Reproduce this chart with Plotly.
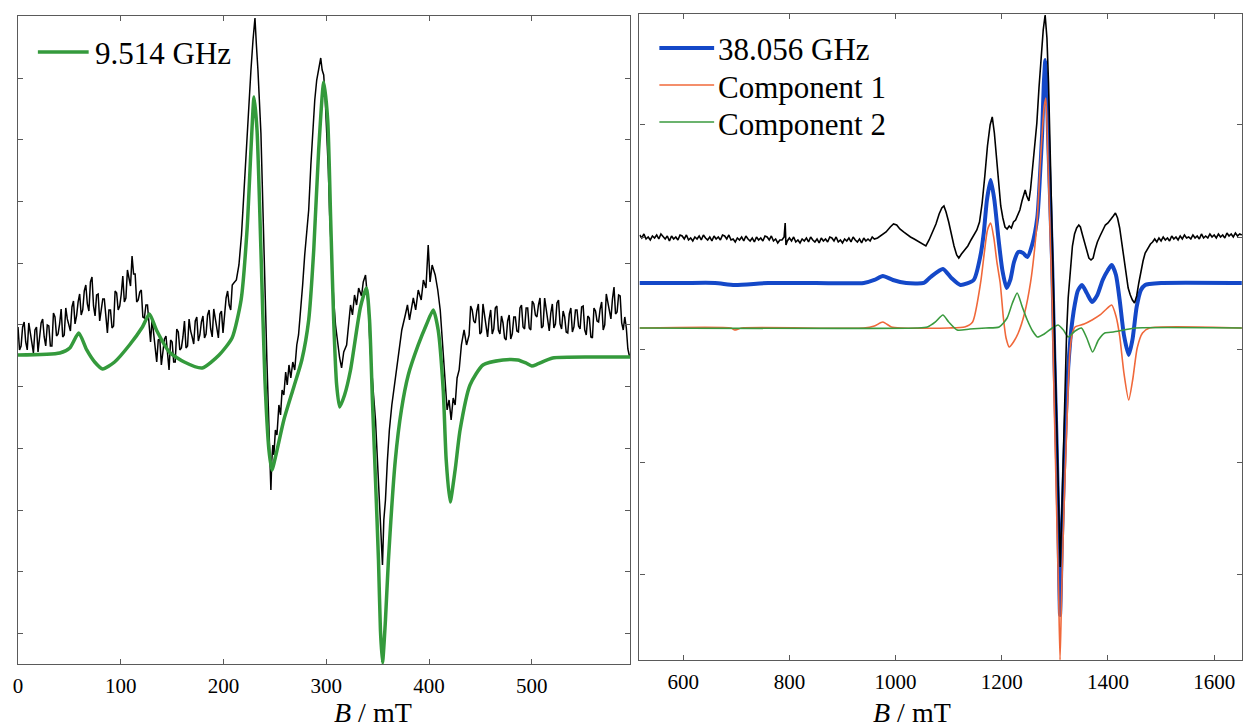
import plotly.graph_objects as go

# X-band (9.514 GHz) experimental spectrum, split in three field ranges
x_band_field_low = [0, 1.5, 3, 4.5, 6, 7.5, 9, 10.5, 12, 13.5, 15, 16.5, 18, 19.5, 21, 22.5, 24, 25.5, 27, 28.5,
                    30, 31.5, 33, 34.5, 36, 37.5, 39, 40.5, 42, 43.5, 45, 46.5, 48, 49.5, 51, 52.5, 54, 55.5, 57, 58.5,
                    60, 61.5, 63, 64.5, 66, 67.5, 69, 70.5, 72, 73.5, 75, 76.5, 78, 79.5, 81, 82.5, 84, 85.5, 87, 88.5,
                    90, 91.5, 93, 94.5, 96, 97.5, 99, 100.5, 102, 103.5, 105, 106.5, 108, 109.5, 111, 112.5, 114, 115.5,
                    117, 118.5, 120, 121.5, 123, 124.5, 126, 127.5, 129, 130.5, 132, 133.5, 135, 136.5, 138, 139.5,
                    141, 142.5, 144, 145.5, 147, 148.5, 150, 151.5, 153, 154.5, 156, 157.5, 159, 160.5, 162, 163.5,
                    165, 166.5, 168, 169.5, 171, 172.5, 174, 175.5, 177, 178.5, 180, 181.5, 183, 184.5, 186, 187.5,
                    189, 190.5, 192, 193.5, 195, 196.5, 198, 199.5, 201, 202.5, 204, 205.5, 207, 208.5, 210]
x_band_signal_low = [27, 4, 8, 27, 32, 12, 4, 31, 21, 9, 1, 24, 27, 2, 15, 31, 35, 17, 8, 29,
                     28, 8, 8, 41, 37, 18, 20, 30, 45, 17, 19, 46, 35, 29, 23, 47, 53, 30, 38, 52,
                     60, 39, 44, 63, 69, 50, 43, 72, 77, 48, 38, 59, 60, 33, 43, 55, 55, 34, 21, 44,
                     44, 26, 28, 63, 61, 44, 48, 60, 78, 52, 56, 84, 74, 68, 98, 80, 80, 52,
                     54, 62, 64, 37, 36, 49, 49, 25, 12, 35, 21, 4, -8, 14, 15, -11,
                     1, 15, 18, 1, -16, 14, 12, -8, -8, 25, 22, 4, 6, 17, 33, 6,
                     8, 35, 23, 17, 10, 33, 37, 13, 19, 32, 38, 16, 20, 39, 44, 25,
                     17, 45, 36, 24, 16, 40, 43, 21, 37, 56, 63, 49, 44, 69, 71]

x_band_field_peaks = [212.5, 215, 217.5, 220, 222.9, 224.8, 226.7, 228.7, 230.6, 232,
                      233.5, 236.4, 239.3, 240.7, 242.2, 243.2, 244.2, 245.2, 246.1, 247,
                      248, 249, 250.5, 252, 253.9, 255.5, 257, 258.7, 260.5, 262,
                      263.7, 265.5, 267.4, 269.3, 271.3, 273, 275.2, 277, 279, 281,
                      282.9, 285, 286.8, 288.8, 290.7, 292.5, 294.6, 296, 297.5, 299,
                      300.4, 302, 303.3, 305, 307.2, 309, 311, 313, 314.9, 317,
                      319.8, 321.5, 323.6, 325.5, 327.5, 329.5, 331.5, 334.3, 336, 338.2,
                      339.5, 341.1, 342.5, 344, 346, 347.9, 349.5, 350.8, 352.7, 354.7,
                      356, 357.6, 359.5, 361.4, 363.8, 366.3, 368.5, 371.1, 373.5, 376.9,
                      379, 381, 384.7, 387, 389.5, 392.4, 394.5, 397, 399.2, 401,
                      403, 406, 408.5, 410.9, 412.8, 414.7, 416, 417.6, 419.5, 421.5,
                      423.5, 425.4, 427.3, 429.3, 431.5, 434.1, 436.5]
x_band_signal_peaks = [74, 89, 119, 164, 221, 254, 284, 314, 336, 309,
                       284, 221, 121, 54, -6, -46, -76, -101, -136, -106,
                       -91, -101, -76, -81, -51, -61, -36, -41, -18, -31,
                       -11, -24, -8, -16, 9, 19, 44, 69, 99, 119,
                       144, 189, 224, 254, 274, 284, 296, 284, 279, 254,
                       224, 184, 139, 99, 54, 29, 9, -4, -14, 2,
                       9, 29, 49, 39, 59, 49, 66, 58, 72, 79,
                       59, 44, 9, -16, -41, -66, -101, -136, -166, -211,
                       -166, -146, -106, -76, -51, -31, -11, 4, 24, 39,
                       49, 34, 56, 44, 64, 54, 74, 66, 109, 72,
                       89, 79, 64, 44, 14, -16, -41, -56, -46, -66,
                       -44, -51, -24, -16, 9, 24, 9]

x_band_field_high = [439, 440.5, 442, 443.5, 445, 446.5, 448, 449.5, 451, 452.5, 454, 455.5, 457, 458.5,
                     460, 461.5, 463, 464.5, 466, 467.5, 469, 470.5, 472, 473.5, 475, 476.5, 478, 479.5,
                     481, 482.5, 484, 485.5, 487, 488.5, 490, 491.5, 493, 494.5, 496, 497.5, 499, 500.5,
                     502, 503.5, 505, 506.5, 508, 509.5, 511, 512.5, 514, 515.5, 517, 518.5, 520, 521.5,
                     523, 524.5, 526, 527.5, 529, 530.5, 532, 533.5, 535, 536.5, 538, 539.5, 541, 542.5,
                     544, 545.5, 547, 548.5, 550, 551.5, 553, 554.5, 556, 557.5, 559, 560.5, 562, 563.5,
                     565, 566.5, 568, 569.5, 571, 572.5, 574, 575.5, 577, 578.5, 580, 581.5, 583, 584.5,
                     586, 587.5, 589, 590.5, 592, 593.5, 595]
x_band_signal_high = [19, 48, 44, 33, 31, 43, 50, 20, 22, 50, 40, 26, 17, 35,
                      44, 20, 25, 46, 48, 24, 20, 38, 31, 16, 14, 33, 39, 15,
                      20, 37, 37, 23, 22, 46, 49, 27, 25, 46, 46, 26, 24, 53,
                      50, 39, 37, 49, 56, 26, 28, 56, 45, 31, 23, 41, 50, 26,
                      30, 51, 54, 30, 25, 43, 37, 22, 21, 40, 46, 22, 27, 44,
                      44, 28, 25, 47, 48, 24, 19, 38, 36, 17, 16, 46, 43, 33,
                      32, 45, 52, 24, 29, 60, 52, 41, 35, 55, 67, 40, 42, 59,
                      58, 31, 24, 37, 26, 5, -2]

# X-band simulation
x_band_field_sim = [0, 40.7, 50.4, 59.1, 66.9, 74.6, 82.4, 94, 108.5, 121.1,
                    127.9, 134.7, 147.3, 161.8, 179.3, 195.7, 208.3, 217.1, 222.9, 226.7,
                    229.7, 232.6, 236.4, 240.3, 244.2, 247.1, 251, 258.7, 268.4, 276.2,
                    282.9, 287.8, 292.6, 297.5, 301.4, 304.3, 307.2, 310.1, 313, 317.8,
                    323.6, 333.3, 339.1, 342.1, 344.9, 347.9, 350.8, 352.7, 354.7, 357.6,
                    360.5, 367.2, 373.1, 379.8, 389.5, 397.3, 404.1, 408.9, 413.8, 416.7,
                    420.5, 425.4, 430.2, 439.9, 452.5, 471.9, 486.4, 494.2, 500, 505.8,
                    520.3, 559.1, 596]
x_band_signal_sim = [-1, 1, 6, 21, 4, -8, -15, -8, 9, 27,
                     40, 24, 2, -8, -14, -1, 16, 54, 124, 204,
                     257, 224, 104, -26, -96, -116, -101, -66, -33, -6,
                     34, 104, 204, 272, 234, 134, 34, -31, -53, -41,
                     -16, 47, 66, 34, -46, -126, -206, -276, -309, -266,
                     -206, -106, -56, -21, 9, 29, 44, 24, -36, -106,
                     -148, -116, -76, -31, -11, -6, -6, -9, -12, -10,
                     -4, -3, -3]

# Q-band (38.056 GHz) experimental spectrum
q_band_field_exp = [518, 522, 526, 530, 534, 538, 542, 546, 550, 554, 558, 562, 566, 570, 574, 578, 582, 586,
                    590, 594, 598, 602, 606, 610, 614, 618, 622, 626, 630, 634, 638, 642, 646, 650, 654, 658,
                    662, 666, 670, 674, 678, 682, 686, 690, 694, 698, 702, 706, 710, 714, 718, 722, 726, 730,
                    734, 738, 742, 746, 750, 754, 758, 762, 766, 770, 774, 778, 782, 786, 790, 792, 793.5, 796,
                    800, 804, 808, 812, 816, 820, 824, 828, 832, 836, 840, 844, 848, 852, 856, 860, 864, 868,
                    872, 876, 880, 884, 888, 892, 896, 900, 904, 908, 912, 916, 920, 924, 928, 932, 936, 940,
                    944, 948, 952, 956, 960,
                    966, 974, 982, 990, 996, 1002, 1008, 1015, 1022, 1028, 1035, 1042, 1050, 1057, 1063,
                    1070, 1076, 1082, 1087, 1091, 1095, 1100, 1105, 1110, 1115, 1119, 1124, 1130, 1136,
                    1142, 1148, 1153, 1158, 1163, 1168, 1173, 1178, 1182, 1186, 1190, 1194, 1198, 1202,
                    1206, 1210, 1214, 1218, 1222, 1226, 1230, 1234, 1238, 1241, 1244, 1247, 1251, 1254,
                    1258, 1262, 1266, 1270, 1274, 1278, 1281.6, 1285, 1288, 1291, 1294, 1297, 1300, 1304,
                    1307, 1310, 1313, 1316, 1319, 1322, 1325, 1329, 1333, 1337, 1341, 1345, 1348, 1352,
                    1356, 1360, 1364, 1368, 1372, 1376, 1380, 1385, 1390, 1395, 1400, 1405, 1410, 1414,
                    1418, 1422, 1426, 1430, 1434, 1438, 1442, 1446, 1450, 1454, 1458, 1462, 1466, 1470,
                    1475, 1480,
                    1484, 1488, 1492, 1496, 1500, 1504, 1508, 1512, 1516, 1520, 1524, 1528, 1532, 1536,
                    1540, 1544, 1548, 1552, 1556, 1560, 1564, 1568, 1572, 1576, 1580, 1584, 1588, 1592,
                    1596, 1600, 1604, 1608, 1612, 1616, 1620, 1624, 1628, 1632, 1636, 1640, 1644, 1648, 1652]
q_band_signal_exp = [93, 90, 94, 89, 91, 88, 92, 90, 93, 89, 94, 91, 89, 92, 87, 92, 89, 91,
                     88, 93, 92, 89, 93, 88, 90, 87, 91, 89, 92, 88, 93, 90, 88, 91, 87, 92,
                     89, 91, 88, 93, 92, 89, 93, 88, 89, 86, 90, 88, 91, 87, 92, 89, 87, 90,
                     86, 91, 88, 90, 87, 92, 91, 88, 92, 87, 89, 85, 88, 88, 91, 105, 83, 87,
                     90, 87, 91, 86, 88, 85, 89, 87, 90, 86, 91, 88, 86, 89, 85, 90, 87, 89,
                     86, 91, 90, 87, 91, 86, 88, 85, 89, 87, 90, 86, 91, 88, 86, 89, 85, 90,
                     87, 89, 87, 91, 89,
                     90, 93, 96, 101, 104, 103, 99, 96, 93, 91, 89, 87, 84, 82, 88,
                     96, 104, 114, 120, 122, 116, 106, 92, 82, 73, 70, 74, 78, 82,
                     88, 93, 98, 106, 125, 152, 182, 203, 211, 195, 170, 145, 122, 110,
                     101, 99, 102, 100, 106, 108, 113, 118, 127, 133, 138, 132, 127, 138,
                     160, 180, 205, 240, 272, 298, 313, 290, 245, 180, 105, 30, -30, -110,
                     -180, -239, -185, -115, -50, -5, 30, 60, 82, 94, 100, 103, 101, 93,
                     85, 76, 70, 68, 70, 79, 86, 92, 98, 103, 105, 108, 112, 115,
                     110, 100, 85, 68, 52, 40, 33, 28, 25, 32, 45, 57, 67, 75,
                     80, 84,
                     86, 89, 86, 90, 87, 91, 88, 90, 87, 92, 89, 91, 88, 92,
                     89, 93, 90, 91, 89, 93, 90, 92, 89, 94, 90, 92, 90, 94,
                     91, 93, 90, 94, 91, 93, 90, 95, 92, 94, 91, 95, 92, 94, 93]

# Q-band simulation and its two components
q_band_field_sim = [517.6, 600, 660, 697, 760, 850, 940, 960, 976, 995,
                    1020, 1053, 1066, 1089, 1105, 1122, 1147, 1160, 1166, 1172,
                    1179, 1186, 1194, 1201, 1209, 1216, 1223, 1231, 1240, 1248,
                    1257, 1267, 1272, 1276, 1279, 1282, 1285, 1287, 1291, 1295,
                    1299, 1303, 1306.5, 1309.7, 1313, 1317, 1321, 1325, 1329, 1333,
                    1338, 1343, 1351, 1360, 1370, 1380, 1390, 1400, 1407, 1415,
                    1422, 1430, 1439, 1446, 1454, 1462, 1470, 1478, 1500, 1652]
q_band_signal_sim = [45, 45, 45, 43, 45, 45, 45, 48, 52, 48,
                     45, 45, 51, 59, 50, 43, 48, 73, 95, 128,
                     148, 128, 88, 58, 40, 48, 66, 76, 75, 71,
                     83, 111, 153, 195, 243, 268, 238, 195, 128, 61,
                     -30, -110, -195, -287, -215, -145, -85, -40, -12, 8,
                     25, 37, 43, 35, 26, 33, 48, 58, 63, 53,
                     28, -7, -27, -12, 21, 38, 43, 44, 45, 45]

comp1_field = [517.6, 690, 697, 710, 940, 960, 976, 992, 1010, 1100,
               1130, 1145, 1160, 1167, 1173, 1179, 1185, 1191, 1197, 1203,
               1208, 1214, 1222, 1231, 1243, 1254, 1262, 1267, 1272, 1276,
               1280, 1283, 1287, 1291, 1294.8, 1298, 1301, 1304, 1307, 1309.7,
               1312.5, 1315.8, 1319, 1322, 1325, 1328.5, 1333, 1338, 1355, 1370,
               1385, 1395, 1407, 1415, 1422, 1430, 1439, 1447, 1455, 1465,
               1478, 1652]
comp1_signal = [0, 0, -2, 0, 0, 2, 6, 1, 0, 0,
                1, 6, 45, 75, 98, 105, 90, 65, 45, 10,
                -10, -19, -14, -5, 15, 45, 80, 111, 160, 195,
                222, 230, 165, 95, 28, -60, -130, -200, -265, -332,
                -270, -205, -150, -105, -60, -22, -5, 1, 4, 8,
                13, 18, 23, 12, -8, -45, -72, -50, -20, -5,
                0, 0]

comp2_field = [517.6, 1040, 1060, 1075, 1089, 1100, 1116, 1140, 1170, 1195,
               1210, 1220, 1229, 1238, 1248, 1258, 1267, 1280, 1295, 1306,
               1316, 1325, 1338, 1350, 1360, 1371, 1382, 1394, 1410, 1430,
               1452, 1652]
comp2_signal = [0, 0, 1, 6, 13, 6, -2, -1, 0, 1,
                10, 25, 35, 22, 8, -3, -9, -6, 0, 3,
                -2, -9, -3, 0, -10, -24, -12, -5, -4, -2,
                0, 0]

x_band_ticks = [0, 100, 200, 300, 400, 500]
q_band_ticks = [600, 800, 1000, 1200, 1400, 1600]

SERIF = "Liberation Serif"
AXIS_GREY = "#5a5a5a"
GREEN_THICK = "#349a3c"
BLUE = "#1448c8"
ORANGE = "#f0683a"
GREEN_THIN = "#3a9a3e"


def axis_style():
    return dict(showline=True, linecolor=AXIS_GREY, linewidth=1.3, mirror="ticks",
                ticks="inside", ticklen=5, tickcolor=AXIS_GREY, tickwidth=1,
                showgrid=False, zeroline=False,
                tickfont=dict(family=SERIF, size=21, color="black"))


def legend_entry(fig, x0, x1, text_x, y_px, text, color, width):
    # line sample plus label, placed in page pixels of the 1243x728 canvas
    y = 1 - y_px / 728
    fig.add_shape(type="line", xref="paper", yref="paper", x0=x0 / 1243, x1=x1 / 1243, y0=y, y1=y,
                  line=dict(color=color, width=width))
    fig.add_annotation(text=text, x=text_x / 1243, y=1 - (y_px + 2) / 728, xref="paper", yref="paper",
                       xanchor="left", yanchor="middle", showarrow=False,
                       font=dict(family=SERIF, size=31, color="black"))


def generate_figure():
    fig = go.Figure()

    fig.add_trace(go.Scatter(x=x_band_field_low + x_band_field_peaks + x_band_field_high,
                             y=x_band_signal_low + x_band_signal_peaks + x_band_signal_high,
                             mode="lines", line=dict(color="black", width=1.5),
                             xaxis="x", yaxis="y"))
    fig.add_trace(go.Scatter(x=x_band_field_sim, y=x_band_signal_sim, mode="lines",
                             line=dict(color=GREEN_THICK, width=3.5, shape="spline", smoothing=0.6),
                             name="9.514 GHz", xaxis="x", yaxis="y"))

    fig.add_trace(go.Scatter(x=q_band_field_sim, y=q_band_signal_sim, mode="lines",
                             line=dict(color=BLUE, width=4, shape="spline", smoothing=0.6),
                             name="38.056 GHz", xaxis="x2", yaxis="y2"))
    fig.add_trace(go.Scatter(x=comp1_field, y=comp1_signal, mode="lines",
                             line=dict(color=ORANGE, width=1.6, shape="spline", smoothing=0.6),
                             name="Component 1", xaxis="x2", yaxis="y2"))
    fig.add_trace(go.Scatter(x=comp2_field, y=comp2_signal, mode="lines",
                             line=dict(color=GREEN_THIN, width=1.6, shape="spline", smoothing=0.6),
                             name="Component 2", xaxis="x2", yaxis="y2"))
    fig.add_trace(go.Scatter(x=q_band_field_exp, y=q_band_signal_exp, mode="lines",
                             line=dict(color="black", width=1.6), xaxis="x2", yaxis="y2"))

    fig.update_layout(
        width=1243, height=728,
        margin=dict(l=0, r=0, t=0, b=0),
        showlegend=False,
        paper_bgcolor="white", plot_bgcolor="white",
        font=dict(family=SERIF, color="black"),
        xaxis=dict(domain=[0.0105, 0.5052], range=[0, 596], tickvals=x_band_ticks,
                   ticklabelstandoff=3, anchor="y", **axis_style()),
        yaxis=dict(domain=[0.088, 0.978], range=[-310, 338], tick0=29, dtick=61.7,
                   showticklabels=False, anchor="x", **axis_style()),
        xaxis2=dict(domain=[0.5125, 0.9992], range=[517.6, 1652.4], tickvals=q_band_ticks,
                    ticklabelstandoff=3, anchor="y2", **axis_style()),
        yaxis2=dict(domain=[0.0934, 0.9808], range=[-332, 314], tick0=-22, dtick=112.5,
                    showticklabels=False, anchor="x2", **axis_style()),
        annotations=[
            dict(text="<i>B</i> / mT", x=328 / 1243, y=1 - 712 / 728, xref="paper", yref="paper",
                 yanchor="middle", showarrow=False, font=dict(family=SERIF, size=28, color="black")),
            dict(text="<i>B</i> / mT", x=952 / 1243, y=1 - 712 / 728, xref="paper", yref="paper",
                 yanchor="middle", showarrow=False, font=dict(family=SERIF, size=28, color="black")),
        ],
    )

    legend_entry(fig, 33, 84, 88, 52, "9.514 GHz", GREEN_THICK, 3.5)
    legend_entry(fig, 657, 712, 714, 48, "38.056 GHz", BLUE, 4)
    legend_entry(fig, 657, 712, 714, 85, "Component 1", ORANGE, 1.6)
    legend_entry(fig, 657, 712, 714, 122, "Component 2", GREEN_THIN, 1.6)
    return fig


def main():
    fig = generate_figure()
    fig.write_html("out.html", config={"displayModeBar": False},
                   post_script="document.body.style.margin = '0';")


if __name__ == '__main__':
    main()
